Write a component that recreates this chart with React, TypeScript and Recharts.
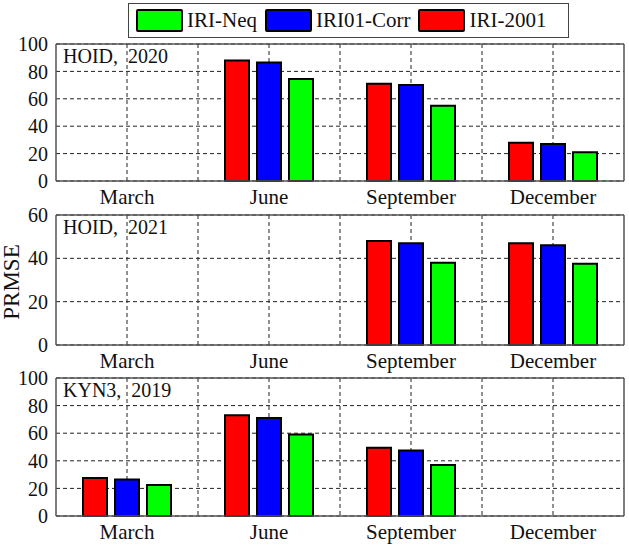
import React from 'react';
import { BarChart, Bar, XAxis, YAxis, CartesianGrid } from 'recharts';

const months = ['March', 'June', 'September', 'December'];
const seriesNames = ['IRI-2001', 'IRI01-Corr', 'IRI-Neq'];
const seriesColors = ['#ff0000', '#0000ff', '#00ff00'];
const legendOrder = [2, 1, 0];

const hoid2020Iri2001 = [null, 88, 71, 28];
const hoid2020Corr = [null, 86.5, 70, 27];
const hoid2020Neq = [null, 74.5, 55, 21];

const hoid2021Iri2001 = [null, null, 48, 47];
const hoid2021Corr = [null, null, 47, 46];
const hoid2021Neq = [null, null, 38, 37.5];

const kyn2019Iri2001 = [27.5, 73, 49.5, null];
const kyn2019Corr = [26.5, 71, 47.5, null];
const kyn2019Neq = [22.5, 59, 37, null];

const ticks100 = [0, 20, 40, 60, 80, 100];
const ticks60 = [0, 20, 40, 60];

const FONT = '"Liberation Serif", "Times New Roman", serif';
const FRAME = '#555';
const TOPPAD = 12;
const XAXIS_H = 30;

function build(a: (number | null)[], b: (number | null)[], c: (number | null)[]) {
  return months.map((m, i) => ({ month: m, s0: a[i], s1: b[i], s2: c[i] }));
}

// top = y of plot top - 4; plot = plot-area height + 1
const panels = [
  { label: 'HOID,  2020', data: build(hoid2020Iri2001, hoid2020Corr, hoid2020Neq), max: 100, ticks: ticks100, top: 40, plot: 141 },
  { label: 'HOID,  2021', data: build(hoid2021Iri2001, hoid2021Corr, hoid2021Neq), max: 60, ticks: ticks60, top: 211, plot: 134 },
  { label: 'KYN3,  2019', data: build(kyn2019Iri2001, kyn2019Corr, kyn2019Neq), max: 100, ticks: ticks100, top: 374, plot: 142 },
];

// vertical grid lines at every category centre and between categories
function verticalLines(props: any) {
  const off = props && props.offset ? props.offset : { left: 56, width: 568 };
  const n = months.length * 2;
  const out: number[] = [];
  for (let k = 1; k < n; k++) out.push(off.left + (off.width * k) / n);
  return out;
}

function Panel({ p }: { p: typeof panels[number] }) {
  return (
    <div style={{ position: 'absolute', left: 0, top: p.top - (TOPPAD - 3) }}>
      <BarChart width={629} height={p.plot + XAXIS_H + TOPPAD - 3} data={p.data} margin={{ top: TOPPAD, right: 4, bottom: 0, left: 0 }} barSize={24} barGap={8}>
        <CartesianGrid stroke="#222" strokeDasharray="4 3" strokeWidth={1} verticalCoordinatesGenerator={verticalLines} />
        <XAxis
          xAxisId="top"
          dataKey="month"
          orientation="top"
          height={1}
          tick={false}
          tickLine={false}
          axisLine={{ stroke: FRAME, strokeWidth: 1.5 }}
        />
        <XAxis
          dataKey="month"
          height={XAXIS_H}
          tickLine={false}
          axisLine={{ stroke: FRAME, strokeWidth: 1.5 }}
          tick={{ fontSize: 21, fontFamily: FONT, fill: '#111' }}
          interval={0}
        />
        <YAxis
          domain={[0, p.max]}
          ticks={p.ticks}
          interval={0}
          width={56}
          tickLine={false}
          axisLine={{ stroke: FRAME, strokeWidth: 1.5 }}
          tick={{ fontSize: 20, fontFamily: FONT, fill: '#111' }}
        />
        <YAxis
          yAxisId="right"
          orientation="right"
          domain={[0, p.max]}
          width={1}
          tick={false}
          tickLine={false}
          axisLine={{ stroke: FRAME, strokeWidth: 1.5 }}
        />
        {seriesNames.map((n, i) => (
          <Bar key={n} dataKey={`s${i}`} name={n} fill={seriesColors[i]} stroke="#000" strokeWidth={2} isAnimationActive={false} />
        ))}
      </BarChart>
      <div style={{ position: 'absolute', left: 63, top: 5 + TOPPAD - 3, fontFamily: FONT, fontSize: 20, color: '#111', whiteSpace: 'pre' }}>{p.label}</div>
    </div>
  );
}

export default function App() {
  return (
    <div style={{ position: 'absolute', left: 0, top: 0, width: 629, height: 546, background: '#fff', fontFamily: FONT, overflow: 'hidden' }}>
      <div style={{ position: 'absolute', left: 128, top: 3, width: 441, height: 35, border: '1px solid #444', boxSizing: 'border-box', display: 'flex', alignItems: 'center', paddingLeft: 7 }}>
        {legendOrder.map((i) => (
          <div key={i} style={{ display: 'flex', alignItems: 'center', marginRight: 8 }}>
            <div style={{ width: 47, height: 23, background: seriesColors[i], border: '2px solid #000', boxSizing: 'border-box', borderRadius: 2 }} />
            <span style={{ fontSize: 21, marginLeft: 4, color: '#111' }}>{seriesNames[i]}</span>
          </div>
        ))}
      </div>
      {panels.map((p) => (
        <Panel key={p.label} p={p} />
      ))}
      <div style={{ position: 'absolute', left: 12, top: 282, transform: 'translate(-50%, -50%) rotate(-90deg)', fontSize: 23, color: '#111' }}>PRMSE</div>
    </div>
  );
}
